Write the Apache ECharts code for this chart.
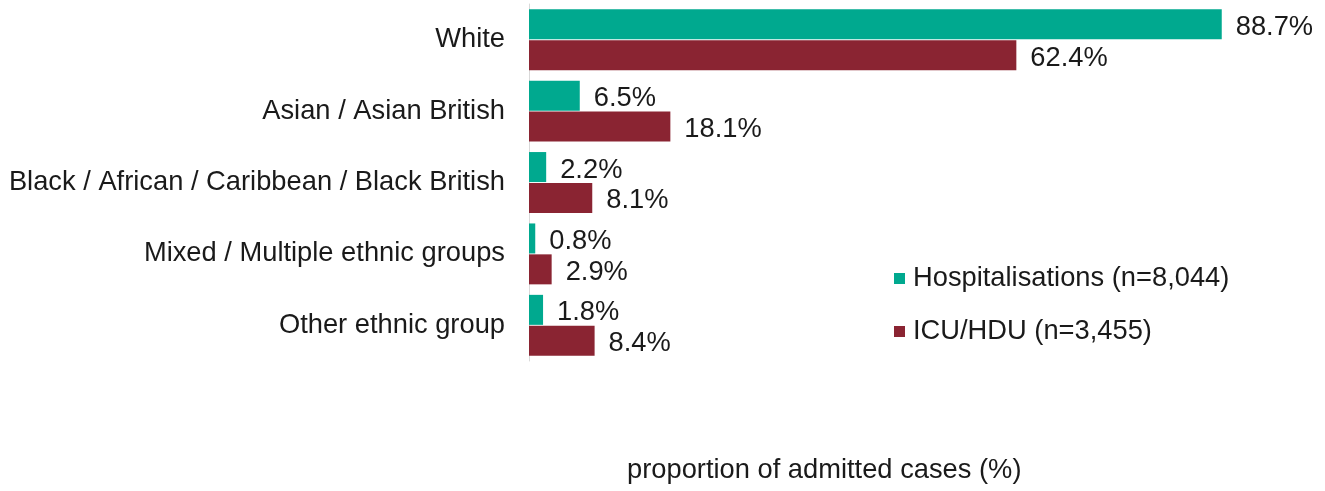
<!DOCTYPE html>
<html>
<head>
<meta charset="utf-8">
<script src="https://cdn.jsdelivr.net/npm/echarts@6/dist/echarts.min.js"></script>
<style>html,body{margin:0;padding:0;background:#fff}#c{width:1325px;height:491px}</style>
</head>
<body>
<div id="c"></div>
<script>
const categories = ['White', 'Asian / Asian British', 'Black / African / Caribbean / Black British', 'Mixed / Multiple ethnic groups', 'Other ethnic group'];
const hospitalisations = [88.7, 6.5, 2.2, 0.8, 1.8];
const icuHdu = [62.4, 18.1, 8.1, 2.9, 8.4];
const seriesNames = ['Hospitalisations (n=8,044)', 'ICU/HDU (n=3,455)'];
const axisTitle = 'proportion of admitted cases (%)';

const font = 'Liberation Sans, Arial, sans-serif';
const FS = 27.3;
const chart = echarts.init(document.getElementById('c'));
const lbl = {show: true, position: 'right', distance: 14, offset: [0, 3], fontSize: FS, fontFamily: font, color: '#1a1a1a', formatter: p => p.value.toFixed(1) + '%'};
chart.setOption({
  animation: false,
  grid: {left: 529, top: 4, bottom: 130, right: 15},
  xAxis: {type: 'value', min: 0, max: 100, show: false},
  yAxis: {
    type: 'category', data: categories, inverse: true,
    axisLine: {show: true, lineStyle: {color: '#d9d9d9', width: 1}},
    axisTick: {show: false},
    axisLabel: {fontSize: FS, fontFamily: font, color: '#1a1a1a', margin: 24}
  },
  legend: {
    orient: 'vertical', left: 889, top: 260, itemGap: 26,
    itemWidth: 11, itemHeight: 11, icon: 'rect',
    textStyle: {fontSize: FS, fontFamily: font, color: '#1a1a1a', padding: [0, 0, 0, 3]},
    data: seriesNames
  },
  graphic: [{type: 'text', left: 627, top: 457, style: {text: axisTitle, fontSize: FS, fontFamily: font, fill: '#1a1a1a'}}],
  series: [
    {name: seriesNames[0], type: 'bar', data: hospitalisations, barWidth: 30, barGap: '3%', itemStyle: {color: '#00a98f'}, label: lbl},
    {name: seriesNames[1], type: 'bar', data: icuHdu, barWidth: 30, itemStyle: {color: '#8a2432'}, label: lbl}
  ]
});
</script>
</body>
</html>
